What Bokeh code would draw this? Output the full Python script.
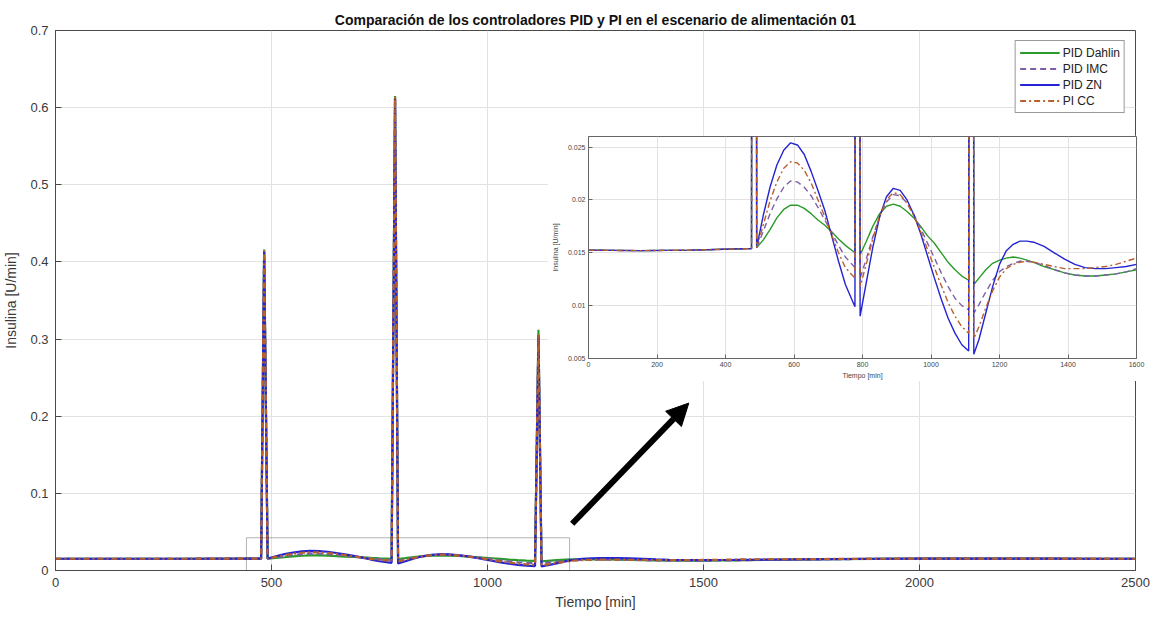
from bokeh.plotting import figure
from bokeh.models import (Range1d, FixedTicker, Legend, LegendItem, BoxAnnotation,
                          Arrow, NormalHead, ColumnDataSource)
from bokeh.layouts import column
from bokeh.embed import file_html
from bokeh.resources import INLINE

# ---------------- data ----------------
time_min = [0, 150, 300, 476, 483,
            491, 510, 530, 550, 570, 590, 610, 630, 650, 670, 690, 710, 730, 750, 778, 786,
            793, 810, 830, 850, 870, 890, 910, 930, 950, 970, 990, 1010, 1030, 1050, 1070, 1090, 1110, 1118,
            1125, 1140, 1160, 1180, 1200, 1220, 1240, 1260, 1280, 1300, 1330, 1360, 1390, 1420, 1450, 1480,
            1510, 1540, 1570, 1600,
            1700, 1800, 1900, 2000, 2100, 2200, 2300, 2400, 2500]

pid_dahlin = [0.01525, 0.0152, 0.01525, 0.0154, 0.416,
              0.0155, 0.0162, 0.0172, 0.0183, 0.0191, 0.0195, 0.0195, 0.0192, 0.0187, 0.0181, 0.0176, 0.0170,
              0.0163, 0.0157, 0.0150, 0.615,
              0.0148, 0.0160, 0.0175, 0.0187, 0.0194, 0.0196, 0.0194, 0.0189, 0.0183, 0.0175, 0.0166, 0.0159,
              0.0150, 0.0141, 0.0134, 0.0128, 0.0124, 0.312,
              0.0120, 0.0126, 0.0134, 0.0140, 0.0143, 0.0145, 0.0146, 0.0145, 0.0143, 0.0141, 0.0137, 0.0134,
              0.0131, 0.0129, 0.0128, 0.0128, 0.0129, 0.0130, 0.0132, 0.0134,
              0.0140, 0.0146, 0.0150, 0.0153, 0.0154, 0.0154, 0.0153, 0.0152, 0.0152]

pid_imc = [0.01525, 0.0152, 0.01525, 0.0154, 0.414,
           0.0155, 0.0170, 0.0187, 0.0201, 0.0212, 0.0218, 0.0217, 0.0212, 0.0204, 0.0193, 0.0181, 0.0169,
           0.0157, 0.0146, 0.0136, 0.613,
           0.0126, 0.0143, 0.0165, 0.0184, 0.0198, 0.0205, 0.0204, 0.0197, 0.0186, 0.0173, 0.0159, 0.0145,
           0.0131, 0.0118, 0.0107, 0.0100, 0.0096, 0.306,
           0.0093, 0.0101, 0.0113, 0.0124, 0.0132, 0.0137, 0.0140, 0.0142, 0.0142, 0.0141, 0.0138, 0.0134,
           0.0131, 0.0129, 0.0128, 0.0128, 0.0129, 0.0130, 0.0132, 0.0135,
           0.0141, 0.0147, 0.0151, 0.0153, 0.0154, 0.0154, 0.0153, 0.0152, 0.0152]

pid_zn = [0.01525, 0.0152, 0.01525, 0.0154, 0.413,
          0.0155, 0.0185, 0.0212, 0.0233, 0.0247, 0.0254, 0.0252, 0.0243, 0.0227, 0.0209, 0.0190, 0.0166,
          0.0142, 0.0120, 0.0099, 0.612,
          0.0090, 0.0120, 0.0155, 0.0184, 0.0203, 0.0211, 0.0209, 0.0200, 0.0186, 0.0168, 0.0147, 0.0126,
          0.0106, 0.0088, 0.0074, 0.0063, 0.0057, 0.305,
          0.0054, 0.0068, 0.0093, 0.0118, 0.0139, 0.0152, 0.0158, 0.0161, 0.0161, 0.0160, 0.0156, 0.0150,
          0.0144, 0.0139, 0.0136, 0.0135, 0.0135, 0.0136, 0.0137, 0.0139,
          0.0143, 0.0148, 0.0152, 0.0154, 0.0155, 0.0154, 0.0153, 0.0152, 0.0152]

pi_cc = [0.01525, 0.0152, 0.01525, 0.0154, 0.415,
         0.0155, 0.0176, 0.0199, 0.0217, 0.0230, 0.0236, 0.0235, 0.0228, 0.0216, 0.0200, 0.0184, 0.0167,
         0.0150, 0.0136, 0.0126, 0.614,
         0.0118, 0.0138, 0.0163, 0.0185, 0.0200, 0.0207, 0.0205, 0.0197, 0.0185, 0.0170, 0.0153, 0.0136,
         0.0119, 0.0103, 0.0090, 0.0080, 0.0074, 0.306,
         0.0069, 0.0080, 0.0098, 0.0114, 0.0127, 0.0135, 0.0139, 0.0141, 0.0142, 0.0141, 0.0139, 0.0137,
         0.0135, 0.0135, 0.0135, 0.0136, 0.0137, 0.0139, 0.0142, 0.0145,
         0.0147, 0.0150, 0.0152, 0.0154, 0.0155, 0.0155, 0.0154, 0.0153, 0.0152]

series_names = ["PID Dahlin", "PID IMC", "PID ZN", "PI CC"]

main_x_ticks = [0, 500, 1000, 1500, 2000, 2500]
main_y_ticks = [0, 0.1, 0.2, 0.3, 0.4, 0.5, 0.6, 0.7]
main_y_labels = ["0", "0.1", "0.2", "0.3", "0.4", "0.5", "0.6", "0.7"]

inset_x_ticks = [0, 200, 400, 600, 800, 1000, 1200, 1400, 1600]
inset_y_ticks = [0.005, 0.01, 0.015, 0.02, 0.025]
inset_y_labels = ["0.005", "0.01", "0.015", "0.02", "0.025"]

# ---------------- styles ----------------
FONT = "Liberation Sans"
colors = ["#2a9a2a", "#7d5ea8", "#2424d2", "#b8602a"]
dashes = ["solid", "6 4", "solid", "6 3 2 3"]
AX = "#4a4a4a"
TXT = "#3a3a3a"
GRID = "#e2e2e2"

src = ColumnDataSource(dict(t=time_min, dahlin=pid_dahlin, imc=pid_imc, zn=pid_zn, cc=pi_cc))
cols = ["dahlin", "imc", "zn", "cc"]

# ---------------- main figure ----------------
p = figure(frame_width=1080, frame_height=540,
           min_border_left=55, min_border_right=21, min_border_top=30, min_border_bottom=47,
           x_range=Range1d(0, 2500), y_range=Range1d(0, 0.7),
           output_backend="svg", toolbar_location=None,
           title="Comparación de los controladores PID y PI en el escenario de alimentación 01")
p.title.align = "center"
p.title.text_font = FONT
p.title.text_font_size = "14px"
p.title.text_font_style = "bold"
p.title.text_color = "#111111"
p.title.standoff = 5

p.outline_line_color = AX
p.outline_line_width = 1
p.grid.grid_line_color = GRID
p.xaxis.ticker = FixedTicker(ticks=main_x_ticks)
p.yaxis.ticker = FixedTicker(ticks=main_y_ticks)
p.yaxis.major_label_overrides = {v: s for v, s in zip(main_y_ticks, main_y_labels)}
for ax in p.axis:
    ax.axis_line_color = AX
    ax.major_tick_line_color = AX
    ax.major_tick_in = 6
    ax.major_tick_out = 0
    ax.minor_tick_line_color = None
    ax.major_label_text_font = FONT
    ax.major_label_text_font_size = "13px"
    ax.major_label_text_color = TXT
    ax.axis_label_text_font = FONT
    ax.axis_label_text_font_size = "14px"
    ax.axis_label_text_font_style = "normal"
    ax.axis_label_text_color = TXT
p.xaxis.axis_label = "Tiempo [min]"
p.yaxis.axis_label = "Insulina [U/min]"
p.xaxis.major_label_standoff = 7
p.xaxis.axis_label_standoff = 4
p.yaxis.major_label_standoff = 7
p.yaxis.axis_label_standoff = 8

items = []
for c, name, col, dash in zip(cols, series_names, colors, dashes):
    r = p.line("t", c, source=src, line_color=col, line_width=2.2, line_dash=dash)
    items.append(LegendItem(label=name, renderers=[r]))

legend = Legend(items=items, location="top_right",
                label_text_font=FONT, label_text_font_size="12px", label_text_color="#222222",
                glyph_width=40, glyph_height=15, label_height=15, spacing=1,
                padding=4, margin=10, label_standoff=3,
                border_line_color="#333333", border_line_width=1,
                background_fill_color="white", background_fill_alpha=1)
p.add_layout(legend)

p.add_layout(BoxAnnotation(left=442, right=1190, bottom=-0.0043, top=0.0424,
                           fill_alpha=0, line_color="black", line_width=1))
p.add_layout(Arrow(end=NormalHead(size=22, fill_color="black", line_color="black"),
                   x_start=1196, y_start=0.0606, x_end=1466, y_end=0.217,
                   line_color="black", line_width=6))

# ---------------- inset figure ----------------
q = figure(frame_width=548, frame_height=222,
           min_border_left=41, min_border_right=12, min_border_top=1, min_border_bottom=22,
           x_range=Range1d(0, 1600), y_range=Range1d(0.005, 0.026),
           output_backend="svg", toolbar_location=None)
q.outline_line_color = "#666666"
q.grid.grid_line_color = GRID
q.background_fill_color = "white"
q.border_fill_color = "white"
q.xaxis.ticker = FixedTicker(ticks=inset_x_ticks)
q.yaxis.ticker = FixedTicker(ticks=inset_y_ticks)
q.yaxis.major_label_overrides = {v: s for v, s in zip(inset_y_ticks, inset_y_labels)}
for ax in q.axis:
    ax.axis_line_color = "#666666"
    ax.major_tick_line_color = "#666666"
    ax.major_tick_in = 4
    ax.major_tick_out = 0
    ax.minor_tick_line_color = None
    ax.major_label_text_font = FONT
    ax.major_label_text_font_size = "7px"
    ax.major_label_text_color = "#444444"
    ax.axis_label_text_font = FONT
    ax.axis_label_text_font_size = "7px"
    ax.axis_label_text_font_style = "normal"
    ax.axis_label_text_color = "#444444"
q.xaxis.axis_label = "Tiempo [min]"
q.yaxis.axis_label = "Insulina [U/min]"
q.xaxis.major_label_standoff = 3
q.xaxis.axis_label_standoff = 2
q.yaxis.major_label_standoff = 3
q.yaxis.axis_label_standoff = 6

for c, col, dash in zip(cols, colors, dashes):
    q.line("t", c, source=src, line_color=col, line_width=1.4, line_dash=dash)

inset_box = column(q, margin=(-482, 0, 0, 547))
layout = column(p, inset_box)
open("out.html", "w").write(file_html(layout, INLINE))
